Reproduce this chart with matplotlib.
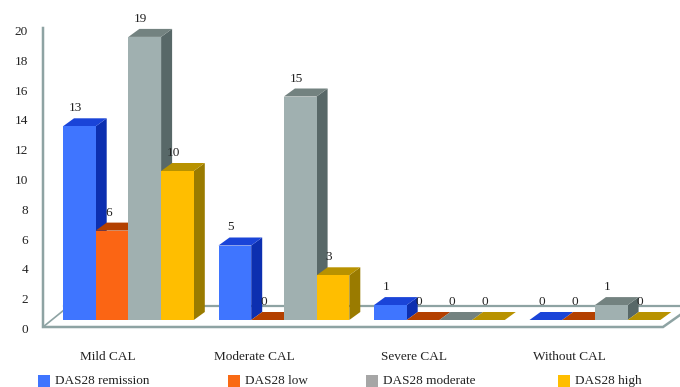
#!/usr/bin/env python3
import matplotlib
matplotlib.use("Agg")
import matplotlib.pyplot as plt
from matplotlib.patches import Polygon, Rectangle
from matplotlib.transforms import Affine2D

categories = ["Mild CAL", "Moderate CAL", "Severe CAL", "Without CAL"]
series_names = ["DAS28 remission", "DAS28 low", "DAS28 moderate", "DAS28 high"]
remission = [13, 5, 1, 0]
low = [6, 0, 0, 0]
moderate = [19, 15, 0, 1]
high = [10, 3, 0, 0]
y_ticks = list(range(0, 21, 2))

# front, side, top
colors = [
    ("#3f75ff", "#0c2fb0", "#1a44d8"),
    ("#fb6514", "#b34000", "#b34000"),
    ("#a0b0b0", "#586868", "#738280"),
    ("#ffbe00", "#9a7b00", "#b89200"),
]
legend_colors = ["#3f75ff", "#f96a14", "#a6a6a6", "#ffbe00"]
axis_color = "#8ea3a3"

W, H = 680, 387
GROUP_PX = 155.5
BAR_PX = 32.7
UNIT_PX = 14.9
LEFT_PX, BASE_PX = 63, 320
DX, DY = 11 / GROUP_PX, 8 / UNIT_PX
BAR_W = BAR_PX / GROUP_PX

plt.rcParams["font.family"] = ["Liberation Serif", "DejaVu Serif"]
text_color = "#222222"
FS = 9.5

fig = plt.figure(figsize=(W / 100, H / 100), dpi=100)
ax = fig.add_axes([0, 0, 1, 1])
ax.set_xlim(-LEFT_PX / GROUP_PX, (W - LEFT_PX) / GROUP_PX)
ax.set_ylim(-(H - BASE_PX) / UNIT_PX, BASE_PX / UNIT_PX)
ax.axis("off")

# pixel coordinates for the frame and labels, y going down
pix = Affine2D().scale(1, -1).translate(0, H)

# floor and left wall
ax.plot([43, 43, 663, 680], [28, 327, 327, 315], color=axis_color, lw=1.8,
        transform=pix, zorder=1, solid_joinstyle="miter")
ax.plot([43, 64], [327, 310], color=axis_color, lw=1.2, transform=pix, zorder=1)
ax.plot([64, 680], [305.5, 305.5], color=axis_color, lw=1.6, transform=pix, zorder=1)

z = 2
for s, values in enumerate([remission, low, moderate, high]):
    front, side, top = colors[s]
    for g, v in enumerate(values):
        x0 = g + s * BAR_W
        x1 = x0 + BAR_W
        # later bars sit on top of the sides of earlier ones
        z = 2 + g * 10 + s
        if v > 0:
            ax.add_patch(Polygon([(x1, 0), (x1 + DX, DY), (x1 + DX, v + DY), (x1, v)],
                                 facecolor=side, edgecolor="none", zorder=z))
        ax.add_patch(Polygon([(x0, v), (x1, v), (x1 + DX, v + DY), (x0 + DX, v + DY)],
                             facecolor=top, edgecolor="none", zorder=z))
        if v > 0:
            ax.bar(x0, v, width=BAR_W, align="edge", color=front, linewidth=0, zorder=z)
        ax.annotate(str(v), (x0 + 12.5 / GROUP_PX, v), xytext=(0, 18 * 0.72),
                    textcoords="offset points", ha="center", va="center",
                    fontsize=FS, color=text_color, zorder=60)

for t in y_ticks:
    ax.text(28, 330 - UNIT_PX * t, str(t), transform=pix, ha="right", va="center",
            fontsize=FS, color=text_color)

category_px = [108, 254, 414, 569]
for name, x in zip(categories, category_px):
    ax.text(x, 357, name, transform=pix, ha="center", va="center",
            fontsize=FS, color=text_color)

legend_px = [38, 228, 366, 558]
for name, c, x in zip(series_names, legend_colors, legend_px):
    ax.add_patch(Rectangle((x, 375), 12, 13, transform=pix, facecolor=c, edgecolor="none"))
    ax.text(x + 17, 384, name, transform=pix, ha="left", va="baseline",
            fontsize=FS, color=text_color)

fig.savefig("out.png", dpi=100)
